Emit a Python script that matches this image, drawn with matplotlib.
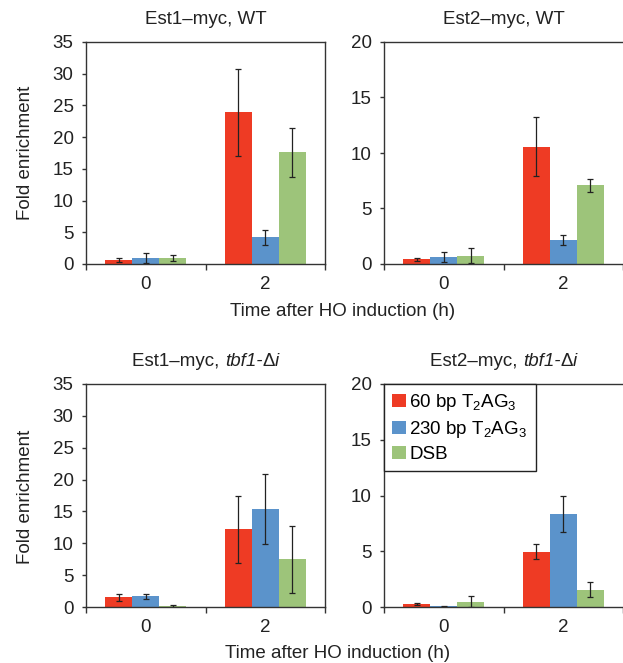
import numpy as np
import matplotlib
matplotlib.use("Agg")
import matplotlib.pyplot as plt
from matplotlib.transforms import offset_copy

plt.rcParams["font.family"] = ["Liberation Sans", "DejaVu Sans"]
plt.rcParams["mathtext.fontset"] = "custom"
plt.rcParams["mathtext.rm"] = "Liberation Sans"
plt.rcParams["mathtext.it"] = "Liberation Sans:italic"

# ----- data ------------------------------------------------------------------
TIMES = ["0", "2"]
SERIES = ["60 bp T$_\\mathrm{2}$AG$_\\mathrm{3}$", "230 bp T$_\\mathrm{2}$AG$_\\mathrm{3}$", "DSB"]
COLORS = ["#EE3B24", "#5B93CB", "#9DC47A"]

# values per panel: rows = series (60bp, 230bp, DSB), cols = time (0, 2)
est1_wt = [[0.63, 23.9], [0.94, 4.2], [0.94, 17.6]]
est1_wt_err = [[0.37, 6.9], [0.8, 1.15], [0.5, 3.9]]
est2_wt = [[0.42, 10.58], [0.63, 2.16], [0.75, 7.08]]
est2_wt_err = [[0.15, 2.65], [0.48, 0.42], [0.68, 0.55]]
est1_tbf = [[1.52, 12.2], [1.68, 15.4], [0.21, 7.5]]
est1_tbf_err = [[0.5, 5.3], [0.35, 5.45], [0.15, 5.25]]
est2_tbf = [[0.27, 4.95], [0.06, 8.34], [0.48, 1.56]]
est2_tbf_err = [[0.12, 0.67], [0.06, 1.64], [0.48, 0.65]]

# title pieces: (text, italic?)
TITLES = [[("Est1\u2013myc, WT", False)],
          [("Est2\u2013myc, WT", False)],
          [("Est1\u2013myc, ", False), ("tbf1-", True), ("\u0394", False), ("i", True)],
          [("Est2\u2013myc, ", False), ("tbf1-", True), ("\u0394", False), ("i", True)]]
YMAX = [35, 20, 35, 20]

W, H = 623, 663
FS = 13.5
TXT = "#222222"
fig = plt.figure(figsize=(W / 100, H / 100), dpi=100)


def box(x0, y0, x1, y1):
    return [x0 / W, 1 - y1 / H, (x1 - x0) / W, (y1 - y0) / H]


axes = [fig.add_axes(box(86, 42, 325, 264)),
        fig.add_axes(box(384, 42, 623, 264)),
        fig.add_axes(box(86, 384, 325, 607)),
        fig.add_axes(box(384, 384, 623, 607))]

panels = [(est1_wt, est1_wt_err), (est2_wt, est2_wt_err),
          (est1_tbf, est1_tbf_err), (est2_tbf, est2_tbf_err)]

x = np.arange(len(TIMES))
bw = 0.226
title_parts = []
for i, (ax, (vals, errs)) in enumerate(zip(axes, panels)):
    for k in range(3):
        ax.bar(x + (k - 1) * bw, vals[k], bw, color=COLORS[k], label=SERIES[k],
               yerr=errs[k], error_kw=dict(ecolor="#222222", elinewidth=0.9,
                                            capsize=2.3, capthick=0.9))
    ax.set_xlim(-0.5, 1.5)
    ax.set_ylim(0, YMAX[i])
    ax.set_yticks(np.arange(0, YMAX[i] + 1, 5))
    ax.set_xticks(x)
    ax.set_xticklabels(TIMES)
    ax.set_xticks([-0.5, 0.5, 1.5], minor=True)
    ax.tick_params(axis="x", which="major", length=0, pad=9, labelsize=FS,
                   labelcolor=TXT)
    ax.tick_params(axis="x", which="minor", length=4, width=1, color="#333333")
    ax.tick_params(axis="y", length=3, width=1, pad=6, labelsize=FS,
                   color="#333333", labelcolor=TXT)
    for s in ax.spines.values():
        s.set_color("#333333")
        s.set_linewidth(1.0)
    if i % 2 == 1:
        ax.spines["right"].set_visible(False)

    # title made of pieces so that only the gene name is italic
    tr = offset_copy(ax.transAxes, fig=fig, x=0, y=10, units="points")
    prev = ax.text(0.5, 1.0, TITLES[i][0][0], transform=tr, ha="left",
                   va="bottom", fontsize=FS, color=TXT)
    parts = [prev]
    for txt, ital in TITLES[i][1:]:
        prev = ax.annotate(txt, xy=(1, 0), xycoords=prev, ha="left", va="bottom",
                           fontsize=FS, color=TXT,
                           style="italic" if ital else "normal")
        parts.append(prev)
    title_parts.append((ax, parts))

leg = axes[3].legend(loc="upper left", bbox_to_anchor=(0, 1), borderaxespad=0,
                     fancybox=False, edgecolor="#222222", framealpha=1,
                     fontsize=FS, handlelength=0.7, handleheight=0.7,
                     handletextpad=0.2, labelspacing=0.3, borderpad=0.45)
leg.get_frame().set_linewidth(1.0)

for yc in (153, 497):
    fig.text(26 / W, 1 - yc / H, "Fold enrichment", rotation=90, ha="center",
             va="center", fontsize=FS, color=TXT)
fig.text(343 / W, 1 - 311 / H, "Time after HO induction (h)", ha="center",
         va="center", fontsize=FS, color=TXT)
fig.text(338 / W, 1 - 654 / H, "Time after HO induction (h)", ha="center",
         va="center", fontsize=FS, color=TXT)

# centre the composite titles over their axes
fig.canvas.draw()
renderer = fig.canvas.get_renderer()
for ax, parts in title_parts:
    x0 = parts[0].get_window_extent(renderer).x0
    x1 = parts[-1].get_window_extent(renderer).x1
    width_ax = (x1 - x0) / ax.get_window_extent(renderer).width
    parts[0].set_x(0.5 - width_ax / 2)

fig.savefig("out.png", dpi=100)
